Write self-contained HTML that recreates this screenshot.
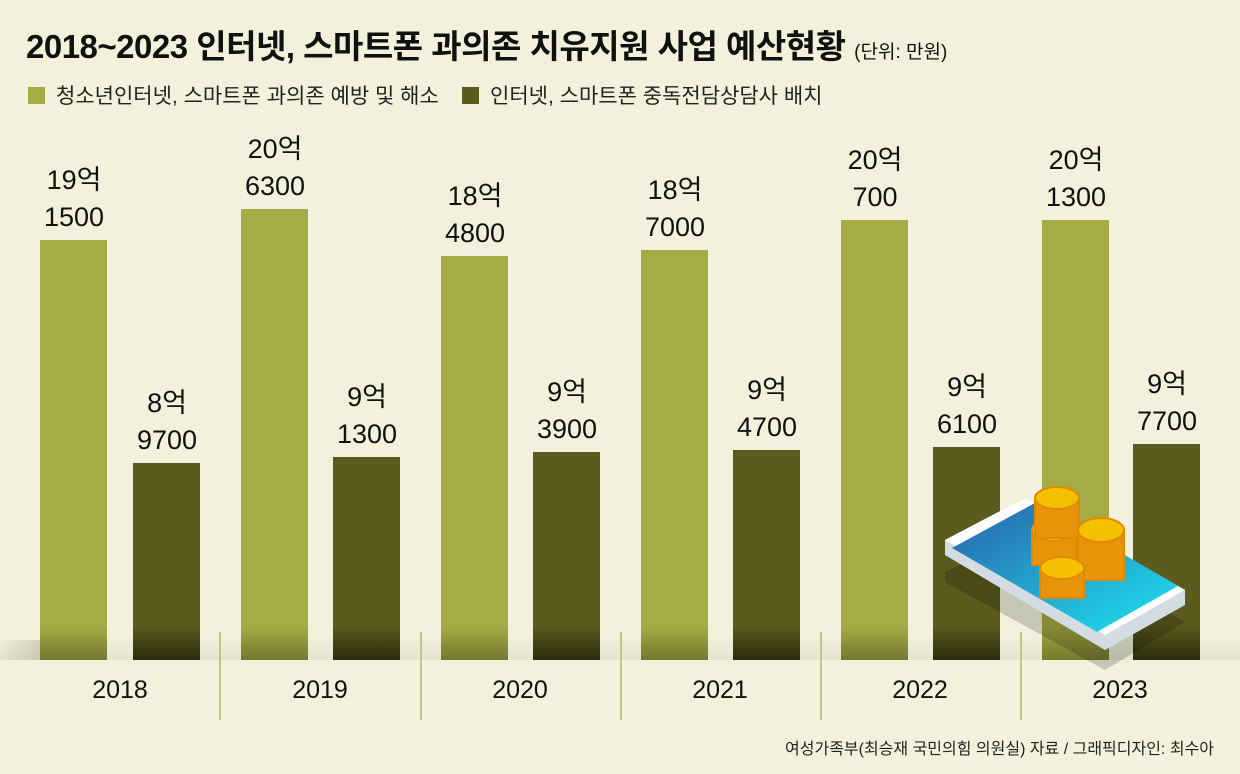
<!DOCTYPE html>
<html><head><meta charset="utf-8"><style>
body{margin:0;background:#f2f2dc;font-family:"Liberation Sans","Noto Sans CJK KR",sans-serif;}
#c{position:relative;width:1240px;height:774px;overflow:hidden;background:#f2f2dc}
.t{position:absolute;white-space:nowrap}
.bar{position:absolute;width:67px}
.l{background:linear-gradient(#a6ab45 0,#a6ab45 calc(100% - 35px),#7d8030 100%)}
.d{background:linear-gradient(#5a5b1d 0,#5a5b1d calc(100% - 35px),#2e2f0c 100%)}
.v{position:absolute;width:120px;text-align:center;font-size:27px;line-height:37px;color:#111}
.yr{position:absolute;width:120px;text-align:center;font-size:25px;top:676px;color:#111}
.dv{position:absolute;width:2px;background:#c3c38a;top:632px;height:88px}
</style></head><body><div id="c">
<div class="t" style="left:26px;top:20px;font-size:33px;font-weight:bold;color:#111;letter-spacing:-0.5px">2018~2023 인터넷, 스마트폰 과의존 치유지원 사업 예산현황 <span style="font-size:19px;font-weight:normal;letter-spacing:0">(단위: 만원)</span></div>
<div class="t" style="left:28px;top:87px;width:17px;height:17px;background:#a6ab45"></div>
<div class="t" style="left:56px;top:80px;font-size:21px;color:#222">청소년인터넷, 스마트폰 과의존 예방 및 해소</div>
<div class="t" style="left:462px;top:87px;width:17px;height:17px;background:#5a5b1d"></div>
<div class="t" style="left:490px;top:80px;font-size:21px;color:#222">인터넷, 스마트폰 중독전담상담사 배치</div>

<div class="t" style="left:0;top:640px;width:40px;height:20px;background:linear-gradient(90deg,#f2f2dc00,#00000020)"></div>

<div class="bar l" style="left:40px;top:240px;height:420px"></div>
<div class="bar d" style="left:133px;top:463px;height:197px"></div>
<div class="bar l" style="left:241px;top:209px;height:451px"></div>
<div class="bar d" style="left:333px;top:457px;height:203px"></div>
<div class="bar l" style="left:441px;top:256px;height:404px"></div>
<div class="bar d" style="left:533px;top:452px;height:208px"></div>
<div class="bar l" style="left:641px;top:250px;height:410px"></div>
<div class="bar d" style="left:733px;top:450px;height:210px"></div>
<div class="bar l" style="left:841px;top:220px;height:440px"></div>
<div class="bar d" style="left:933px;top:447px;height:213px"></div>
<div class="bar l" style="left:1042px;top:220px;height:440px"></div>
<div class="bar d" style="left:1133px;top:444px;height:216px"></div>
<div class="t" style="left:0;top:635px;width:1240px;height:25px;background:linear-gradient(#00000000,#0000000f)"></div>

<div class="v" style="left:14px;top:162px">19억<br>1500</div>
<div class="v" style="left:107px;top:385px">8억<br>9700</div>
<div class="v" style="left:215px;top:131px">20억<br>6300</div>
<div class="v" style="left:307px;top:379px">9억<br>1300</div>
<div class="v" style="left:415px;top:178px">18억<br>4800</div>
<div class="v" style="left:507px;top:374px">9억<br>3900</div>
<div class="v" style="left:615px;top:172px">18억<br>7000</div>
<div class="v" style="left:707px;top:372px">9억<br>4700</div>
<div class="v" style="left:815px;top:142px">20억<br>700</div>
<div class="v" style="left:907px;top:369px">9억<br>6100</div>
<div class="v" style="left:1016px;top:142px">20억<br>1300</div>
<div class="v" style="left:1107px;top:366px">9억<br>7700</div>

<svg class="t" style="left:900px;top:460px" width="340" height="220">
<polygon points="45,100 125,60 285,150 205,198 45,110" fill="#000" opacity=".18" transform="translate(0,12)"/>
<polygon points="45,80 125,38 285,130 285,145 205,190 45,95" fill="#d3dbe3"/>
<polygon points="45,80 125,38 285,130 205,175" fill="#fff"/>
<defs><linearGradient id="g" x1="0" y1="0" x2="1" y2="1"><stop offset="0" stop-color="#2a62aa"/><stop offset="1" stop-color="#1de4f0"/></linearGradient></defs>
<polygon points="52,88 135,43 278,126 197,172" fill="url(#g)"/>
<g fill="#f5c000" stroke="#e08a00" stroke-width="2">
<rect x="132" y="70" width="44" height="35" fill="#e8940a"/><ellipse cx="154" cy="70" rx="22" ry="11"/>
<rect x="135" y="38" width="44" height="40" fill="#e8940a"/><ellipse cx="157" cy="38" rx="22" ry="11"/>
<rect x="178" y="70" width="46" height="50" fill="#e8940a"/><ellipse cx="201" cy="70" rx="23" ry="12"/>
<rect x="140" y="108" width="44" height="30" fill="#e8940a"/><ellipse cx="162" cy="108" rx="22" ry="11"/>
</g></svg>

<div class="dv" style="left:219px"></div><div class="dv" style="left:420px"></div><div class="dv" style="left:620px"></div><div class="dv" style="left:820px"></div><div class="dv" style="left:1020px"></div>
<div class="yr" style="left:60px">2018</div><div class="yr" style="left:260px">2019</div><div class="yr" style="left:460px">2020</div><div class="yr" style="left:660px">2021</div><div class="yr" style="left:860px">2022</div><div class="yr" style="left:1060px">2023</div>
<div class="t" style="right:26px;top:735px;font-size:16px;color:#222">여성가족부(최승재 국민의힘 의원실) 자료 / 그래픽디자인: 최수아</div>
</div></body></html>
